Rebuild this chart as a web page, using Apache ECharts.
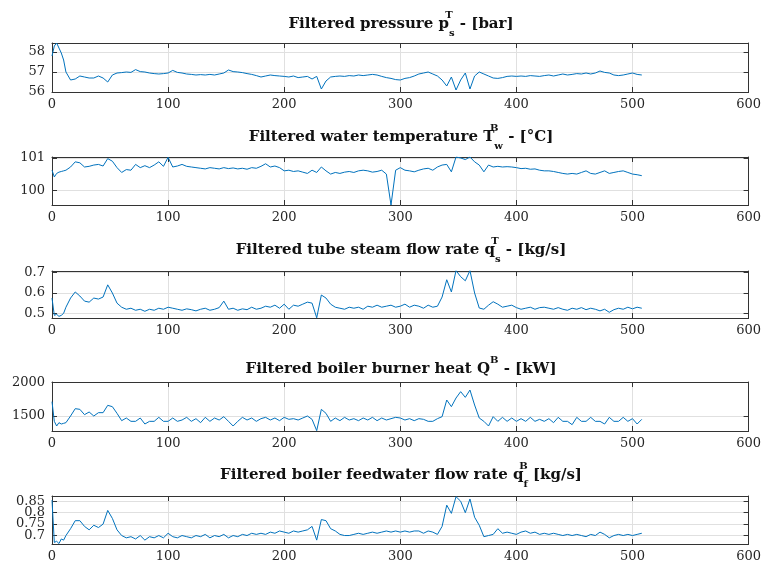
<!DOCTYPE html>
<html>
<head>
<meta charset="utf-8">
<script src="https://cdn.jsdelivr.net/npm/echarts@6/dist/echarts.min.js"></script>
<style>
  html, body { margin: 0; padding: 0; background: #fff; }
  #chart { width: 764px; height: 569px; }
</style>
</head>
<body>
<div id="chart"></div>
<script>
// sample index (x axis)
const xs = [0, 2, 4, 6, 8, 10, 12, 16, 20, 24,
  28, 32, 36, 40, 44, 48, 52, 56, 60, 64,
  68, 72, 76, 80, 84, 88, 92, 96, 100, 104,
  108, 112, 116, 120, 124, 128, 132, 136, 140, 144,
  148, 152, 156, 160, 164, 168, 172, 176, 180, 184,
  188, 192, 196, 200, 204, 208, 212, 216, 220, 224,
  228, 232, 236, 240, 244, 248, 252, 256, 260, 264,
  268, 272, 276, 280, 284, 288, 292, 296, 300, 304,
  308, 312, 316, 320, 324, 328, 332, 336, 340, 344,
  348, 352, 356, 360, 364, 368, 372, 376, 380, 384,
  388, 392, 396, 400, 404, 408, 412, 416, 420, 424,
  428, 432, 436, 440, 444, 448, 452, 456, 460, 464,
  468, 472, 476, 480, 484, 488, 492, 496, 500, 504,
  508];

const pressure = [57.8, 58.3, 58.45, 58.2, 57.95, 57.6, 57.0, 56.6, 56.65, 56.8,
  56.75, 56.7, 56.7, 56.8, 56.7, 56.5, 56.85, 56.95, 56.97, 57.0,
  56.98, 57.12, 57.02, 57.0, 56.95, 56.92, 56.9, 56.92, 56.95, 57.08,
  56.98, 56.95, 56.9, 56.88, 56.85, 56.87, 56.85, 56.88, 56.85, 56.9,
  56.95, 57.1, 57.02, 57.0, 56.97, 56.92, 56.88, 56.82, 56.75, 56.8,
  56.85, 56.82, 56.8, 56.78, 56.75, 56.8, 56.72, 56.75, 56.78, 56.65,
  56.78, 56.15, 56.55, 56.75, 56.78, 56.8, 56.78, 56.82, 56.8, 56.85,
  56.82, 56.85, 56.88, 56.85, 56.78, 56.72, 56.68, 56.62, 56.6, 56.68,
  56.72, 56.8, 56.9, 56.95, 57.0, 56.9, 56.8, 56.6, 56.3, 56.75,
  56.1, 56.6, 56.95, 56.15, 56.8, 57.0, 56.9, 56.8, 56.7, 56.68,
  56.72, 56.78, 56.8, 56.78, 56.8, 56.78, 56.82, 56.8, 56.78, 56.82,
  56.85, 56.8, 56.85, 56.9, 56.85, 56.88, 56.92, 56.9, 56.95, 56.9,
  56.95, 57.05, 56.98, 56.95, 56.85, 56.82, 56.85, 56.9, 56.95, 56.88,
  56.85];

const waterTemp = [100.62, 100.41, 100.52, 100.56, 100.58, 100.6, 100.62, 100.72, 100.88, 100.85,
  100.72, 100.74, 100.78, 100.8, 100.75, 100.98, 100.9, 100.7, 100.55, 100.64,
  100.62, 100.8, 100.7, 100.76, 100.7, 100.78, 100.88, 100.74, 101.02, 100.72,
  100.75, 100.8, 100.74, 100.72, 100.7, 100.68, 100.66, 100.7, 100.68, 100.66,
  100.7, 100.67, 100.69, 100.66, 100.68, 100.65, 100.7, 100.68, 100.74, 100.82,
  100.72, 100.75, 100.7, 100.6, 100.62, 100.58, 100.6, 100.56, 100.52, 100.62,
  100.55, 100.72, 100.6, 100.5, 100.55, 100.52, 100.56, 100.58, 100.55, 100.6,
  100.62, 100.6, 100.56, 100.58, 100.62, 100.5, 99.54, 100.62, 100.7, 100.62,
  100.6, 100.57, 100.62, 100.66, 100.68, 100.62, 100.72, 100.78, 100.8, 100.57,
  101.03, 101.0, 100.95, 101.03, 100.88, 100.78, 100.57, 100.78, 100.72, 100.74,
  100.72, 100.73, 100.72, 100.7, 100.67, 100.68, 100.65, 100.66, 100.62, 100.6,
  100.6, 100.58, 100.55, 100.52, 100.5, 100.52, 100.5, 100.55, 100.6, 100.52,
  100.5, 100.55, 100.6, 100.52, 100.55, 100.58, 100.6, 100.55, 100.5, 100.48,
  100.45];

const steamFlow = [0.575, 0.49, 0.495, 0.485, 0.49, 0.5, 0.53, 0.575, 0.605, 0.585,
  0.56, 0.555, 0.575, 0.57, 0.58, 0.64, 0.6, 0.55, 0.53, 0.52,
  0.525, 0.515, 0.52, 0.51, 0.52, 0.515, 0.525, 0.52, 0.53, 0.525,
  0.52, 0.515, 0.522, 0.518, 0.512, 0.52, 0.525, 0.515, 0.52, 0.528,
  0.56, 0.52, 0.525, 0.515, 0.522, 0.518, 0.53, 0.52, 0.525, 0.535,
  0.53, 0.54, 0.525, 0.545, 0.52, 0.54, 0.535, 0.545, 0.555, 0.55,
  0.478, 0.59, 0.575, 0.545, 0.53, 0.525, 0.52, 0.53, 0.525, 0.53,
  0.52, 0.535, 0.53, 0.54, 0.53, 0.535, 0.54, 0.53, 0.535, 0.545,
  0.53, 0.54, 0.535, 0.525, 0.54, 0.53, 0.535, 0.58, 0.665, 0.605,
  0.71, 0.68, 0.66, 0.71, 0.6, 0.526, 0.52, 0.54, 0.557, 0.545,
  0.53, 0.535, 0.54, 0.528, 0.52, 0.525, 0.53, 0.52, 0.528, 0.53,
  0.525, 0.52, 0.528, 0.52, 0.515, 0.525, 0.52, 0.528, 0.518, 0.525,
  0.52, 0.512, 0.52, 0.505, 0.518, 0.525, 0.52, 0.53, 0.522, 0.53,
  0.525];

const burnerHeat = [1715, 1420, 1350, 1400, 1380, 1390, 1400, 1500, 1610, 1600,
  1520, 1560, 1500, 1550, 1550, 1660, 1640, 1540, 1430, 1470,
  1420, 1420, 1470, 1380, 1420, 1420, 1480, 1420, 1420, 1470,
  1420, 1440, 1480, 1420, 1460, 1400, 1480, 1420, 1470, 1440,
  1490, 1420, 1350, 1420, 1480, 1440, 1470, 1420, 1460, 1480,
  1440, 1470, 1430, 1480, 1450, 1460, 1440, 1470, 1500, 1450,
  1280, 1600, 1540, 1420, 1470, 1430, 1480, 1440, 1460, 1430,
  1470, 1440, 1480, 1430, 1470, 1440, 1460, 1480, 1470, 1440,
  1460, 1430, 1460, 1450, 1420, 1420, 1460, 1490, 1740, 1640,
  1770, 1865, 1780, 1890, 1665, 1470, 1420, 1350, 1490, 1420,
  1480, 1420, 1470, 1420, 1460, 1420, 1480, 1420, 1450, 1420,
  1460, 1400, 1480, 1420, 1420, 1370, 1480, 1420, 1420, 1480,
  1420, 1420, 1380, 1480, 1420, 1420, 1480, 1420, 1460, 1380,
  1450];

const feedwaterFlow = [0.855, 0.67, 0.675, 0.665, 0.685, 0.68, 0.7, 0.73, 0.765, 0.765,
  0.74, 0.725, 0.745, 0.735, 0.75, 0.81, 0.775, 0.725, 0.7, 0.69,
  0.695, 0.685, 0.7, 0.68, 0.695, 0.69, 0.7, 0.69, 0.71, 0.695,
  0.69, 0.7, 0.695, 0.69, 0.7, 0.695, 0.705, 0.69, 0.7, 0.695,
  0.705, 0.69, 0.7, 0.695, 0.705, 0.7, 0.71, 0.705, 0.71, 0.705,
  0.715, 0.71, 0.72, 0.715, 0.71, 0.72, 0.715, 0.72, 0.725, 0.74,
  0.68, 0.77, 0.765, 0.73, 0.72, 0.705, 0.7, 0.7, 0.705, 0.71,
  0.705, 0.71, 0.715, 0.71, 0.715, 0.72, 0.715, 0.72, 0.715, 0.72,
  0.715, 0.72, 0.72, 0.71, 0.72, 0.715, 0.705, 0.74, 0.833, 0.797,
  0.87, 0.85, 0.8, 0.86, 0.78, 0.745, 0.695, 0.7, 0.705, 0.73,
  0.71, 0.715, 0.71, 0.705, 0.715, 0.72, 0.71, 0.715, 0.705, 0.71,
  0.705, 0.71, 0.705, 0.7, 0.705, 0.7, 0.705, 0.7, 0.695, 0.705,
  0.7, 0.715, 0.705, 0.69, 0.7, 0.705, 0.7, 0.705, 0.7, 0.705,
  0.71];

// tick labels
const xTicks = [0, 100, 200, 300, 400, 500, 600];
const pressureTicks = [56, 57, 58];
const waterTempTicks = [100, 101];
const steamFlowTicks = [0.5, 0.6, 0.7];
const burnerHeatTicks = [1500, 2000];
const feedwaterTicks = [0.7, 0.75, 0.8, 0.85];

const panels = [
  { title: 'Filtered pressure p{sup|T}{sub|s} - [bar]', data: pressure, ticks: pressureTicks, min: 56, max: 58.45, top: 43, height: 49, titleTop: 5 },
  { title: 'Filtered water temperature T{sup|B}{sub|w} - [°C]', data: waterTemp, ticks: waterTempTicks, min: 99.54, max: 101.03, top: 157, height: 48, titleTop: 118 },
  { title: 'Filtered tube steam flow rate q{sup|T}{sub|s} - [kg/s]', data: steamFlow, ticks: steamFlowTicks, min: 0.477, max: 0.708, top: 271, height: 47, titleTop: 231 },
  { title: 'Filtered boiler burner heat Q{sup2|B} - [kW]', data: burnerHeat, ticks: burnerHeatTicks, min: 1275, max: 2010, top: 382, height: 49, titleTop: 350 },
  { title: 'Filtered boiler feedwater flow rate q{sup|B}{sub|f} [kg/s]', data: feedwaterFlow, ticks: feedwaterTicks, min: 0.663, max: 0.873, top: 496, height: 48, titleTop: 456 }
];

const boxColor = '#333333';
const textColor = '#262626';
const gridColor = '#e0e0e0';
const lineColor = '#0072bd';
const titleFont = 'DejaVu Serif';
const tickFont = 'DejaVu Serif';

let myChart = echarts.init(document.getElementById('chart'), null, { renderer: 'canvas' });

const option = {
  animation: false,
  backgroundColor: '#fff',
  textStyle: { fontFamily: tickFont },
  title: [], grid: [], xAxis: [], yAxis: [], series: []
};

panels.forEach((p, i) => {
  const small = { fontFamily: titleFont, fontWeight: 'bold', fontSize: 10, color: '#111', lineHeight: 28 };
  option.title.push({
    text: p.title,
    left: 396,
    textAlign: 'center',
    top: p.titleTop,
    textStyle: {
      fontFamily: titleFont,
      fontWeight: 'bold',
      fontSize: 15,
      color: '#111',
      lineHeight: 28,
      rich: {
        sup: Object.assign({ verticalAlign: 'top', width: 0, align: 'left' }, small),
        sup2: Object.assign({ verticalAlign: 'top' }, small),
        sub: Object.assign({ verticalAlign: 'bottom' }, small)
      }
    }
  });
  option.grid.push({ left: 52, right: 14, top: p.top, height: p.height, containLabel: false });

  const axisLine = { show: true, onZero: false, lineStyle: { color: boxColor, width: 1 } };
  const tick = { show: true, inside: true, length: 5, lineStyle: { color: boxColor, width: 1 } };
  const yLabel = { color: textColor, fontFamily: tickFont, fontSize: 13, margin: 7, hideOverlap: false, formatter: v => String(v) };
  // MATLAB draws overlapping tick labels; split them over two left axes so none get hidden
  const evenTicks = p.ticks.filter((t, k) => k % 2 === 0);
  const oddTicks = p.ticks.filter((t, k) => k % 2 === 1);

  option.xAxis.push({
    gridIndex: i, type: 'value', min: 0, max: 600, interval: 100, position: 'bottom',
    axisLine: axisLine, axisTick: tick,
    axisLabel: { customValues: xTicks, color: textColor, fontFamily: tickFont, fontSize: 13, margin: 6, hideOverlap: false },
    splitLine: { show: true, lineStyle: { color: gridColor, width: 1 } }
  });
  option.xAxis.push({
    gridIndex: i, type: 'value', min: 0, max: 600, interval: 100, position: 'top',
    axisLine: axisLine, axisTick: tick, axisLabel: { show: false }, splitLine: { show: false }
  });
  option.yAxis.push({
    gridIndex: i, type: 'value', min: p.min, max: p.max, position: 'left',
    axisLine: axisLine,
    axisTick: Object.assign({ customValues: p.ticks }, tick),
    axisLabel: Object.assign({ customValues: evenTicks }, yLabel),
    splitLine: { show: true, lineStyle: { color: gridColor, width: 1 } }
  });
  option.yAxis.push({
    gridIndex: i, type: 'value', min: p.min, max: p.max, position: 'right',
    axisLine: axisLine,
    axisTick: Object.assign({ customValues: p.ticks }, tick),
    axisLabel: { show: false }, splitLine: { show: false }
  });
  option.yAxis.push({
    gridIndex: i, type: 'value', min: p.min, max: p.max, position: 'left', offset: 0,
    axisLine: { show: false }, axisTick: { show: false },
    axisLabel: Object.assign({ customValues: oddTicks.length ? oddTicks : [p.min], show: oddTicks.length > 0 }, yLabel),
    splitLine: { show: false }
  });
  option.series.push({
    type: 'line',
    xAxisIndex: 2 * i,
    yAxisIndex: 3 * i,
    data: xs.map((x, k) => [x, p.data[k]]),
    showSymbol: false,
    symbol: 'none',
    lineStyle: { color: lineColor, width: 1 },
    z: 3
  });
});

myChart.setOption(option);
</script>
</body>
</html>
